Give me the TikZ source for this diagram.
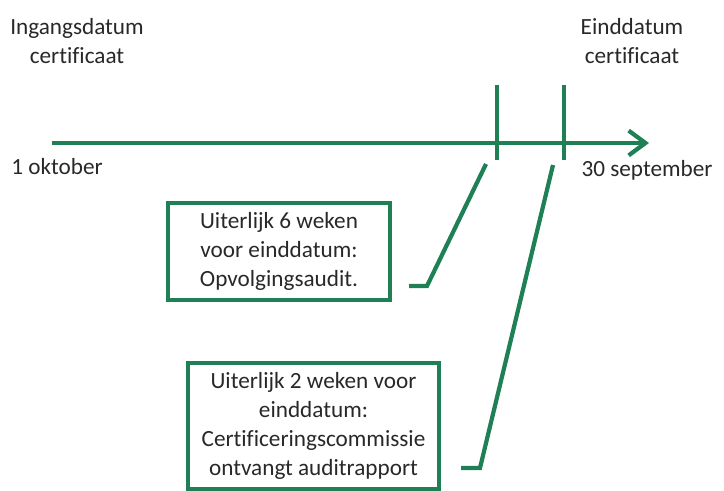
\documentclass[tikz,border=0pt]{standalone}
\usepackage{fontspec}
\setmainfont{Carlito}[Ligatures=NoCommon]
\usepackage{xcolor}
\usepackage{tikz}
\usetikzlibrary{arrows.meta,positioning,calc}

\definecolor{tlgreen}{RGB}{30,128,84}
\definecolor{tltext}{RGB}{40,40,40}

\begin{document}
\begin{tikzpicture}[
    x=0.025cm, y=-0.025cm,
    lbl/.style={inner sep=0pt, align=center, text=tltext, font=\fontsize{16.5}{20}\selectfont},
    box/.style={rectangle, draw=tlgreen, line width=3pt, inner sep=0pt, align=center, text=tltext, font=\fontsize{16.5}{20.5}\selectfont},
    arr/.style={-{Straight Barb[length=0.42cm, width=0.62cm, line width=3pt]}, line width=3.5pt, draw=tlgreen},
    tick/.style={line width=3.2pt, draw=tlgreen},
    lead/.style={line width=3pt, draw=tlgreen}
]
    \useasboundingbox (0,0) rectangle (724,491);

    % tijdlijn
    \coordinate (t0) at (52,143);
    \coordinate (t1) at (649,143);
    \draw [arr] (t0) -- (t1);

    \coordinate (k1top) at (497,85);
    \coordinate (k1bot) at (497,160);
    \coordinate (k2top) at (564,85);
    \coordinate (k2bot) at (564,160);
    \draw [tick] (k1top) -- (k1bot);
    \draw [tick] (k2top) -- (k2bot);

    \node [lbl] (start) at (77,41) {Ingangsdatum\\certificaat};
    \node [lbl] (eind) at (632,41) {Einddatum\\certificaat};
    \node [lbl, anchor=base] (okt) at (57,175) {1 oktober};
    \node [lbl, anchor=base] (sep) at (647,177) {30 september};

    % audits
    \node [box, minimum width=5.55cm, minimum height=2.425cm] (b1) at (279,251.5)
        {Uiterlijk 6 weken\\voor einddatum:\\Opvolgingsaudit.};
    \node [box, minimum width=6.275cm, minimum height=3.15cm] (b2) at (313.5,426)
        {Uiterlijk 2 weken voor\\einddatum:\\Certificeringscommissie\\ontvangt auditrapport};

    \coordinate (l1a) at (486,164);
    \coordinate (l1b) at (427,286);
    \coordinate (l1c) at (409,286);
    \draw [lead] (l1a) -- (l1b) -- (l1c);

    \coordinate (l2a) at (553,165);
    \coordinate (l2b) at (480,468);
    \coordinate (l2c) at (461,468);
    \draw [lead] (l2a) -- (l2b) -- (l2c);
\end{tikzpicture}
\end{document}
